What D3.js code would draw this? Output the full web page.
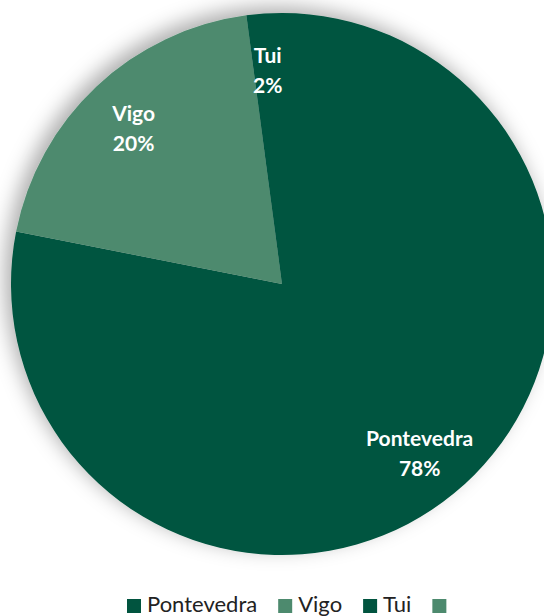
<!DOCTYPE html>
<html>
<head>
<meta charset="utf-8">
<script src="https://cdn.jsdelivr.net/npm/d3@7"></script>
<style>
  body { margin: 0; background: #fff; }
  svg { display: block; }
</style>
</head>
<body>
<svg id="chart" width="544" height="616"></svg>
<script>
// chart data
var categories = ["Pontevedra", "Vigo", "Tui", ""];
var values = [78.1, 19.8, 2.1, 0];
var pctLabels = ["78%", "20%", "2%", ""];
var colors = ["#01543f", "#4d8a6e", "#01543f", "#4d8a6e"];

var svg = d3.select("#chart");
var cx = 282, cy = 284, r = 271;

var defs = svg.append("defs");
var f = defs.append("filter").attr("id", "shadow")
    .attr("x", "-20%").attr("y", "-20%").attr("width", "140%").attr("height", "140%");
f.append("feDropShadow")
    .attr("dx", -6).attr("dy", -6).attr("stdDeviation", 10)
    .attr("flood-color", "#000").attr("flood-opacity", 0.32);

var data = categories.map(function (c, i) {
    return { name: c, value: values[i], pct: pctLabels[i], color: colors[i] };
});

var pie = d3.pie().sort(null).value(function (d) { return d.value; });
var arc = d3.arc().innerRadius(0).outerRadius(r);
var labelArc = d3.arc().innerRadius(r * 0.8).outerRadius(r * 0.8);

var g = svg.append("g").attr("transform", "translate(" + cx + "," + cy + ")");
var arcs = pie(data).filter(function (d) { return d.data.value > 0; });

g.append("g").attr("filter", "url(#shadow)")
  .selectAll("path").data(arcs).enter().append("path")
    .attr("d", arc)
    .attr("fill", function (d) { return d.data.color; });

var lbl = g.selectAll("text.lbl").data(arcs).enter().append("text")
    .attr("class", "lbl")
    .attr("transform", function (d) { return "translate(" + labelArc.centroid(d) + ")"; })
    .attr("text-anchor", "middle")
    .attr("font-family", "Lato, 'Open Sans', sans-serif")
    .attr("font-weight", "bold")
    .attr("font-size", 21)
    .attr("fill", "#fff");
lbl.append("tspan").attr("x", 0).attr("y", -5).text(function (d) { return d.data.name; });
lbl.append("tspan").attr("x", 0).attr("y", 25).text(function (d) { return d.data.pct; });

// legend
var legend = svg.append("g").attr("transform", "translate(0,612)");
var x = 127;
data.forEach(function (d) {
    legend.append("rect")
        .attr("x", x).attr("y", -13).attr("width", 14).attr("height", 14)
        .attr("fill", d.color);
    var t = legend.append("text")
        .attr("x", x + 20).attr("y", 0)
        .attr("font-family", "Lato, 'Open Sans', sans-serif")
        .attr("font-size", 22)
        .attr("fill", "#222")
        .text(d.name);
    var w = d.name ? t.node().getComputedTextLength() : 0;
    x += 20 + w + 21;
});
</script>
</body>
</html>
